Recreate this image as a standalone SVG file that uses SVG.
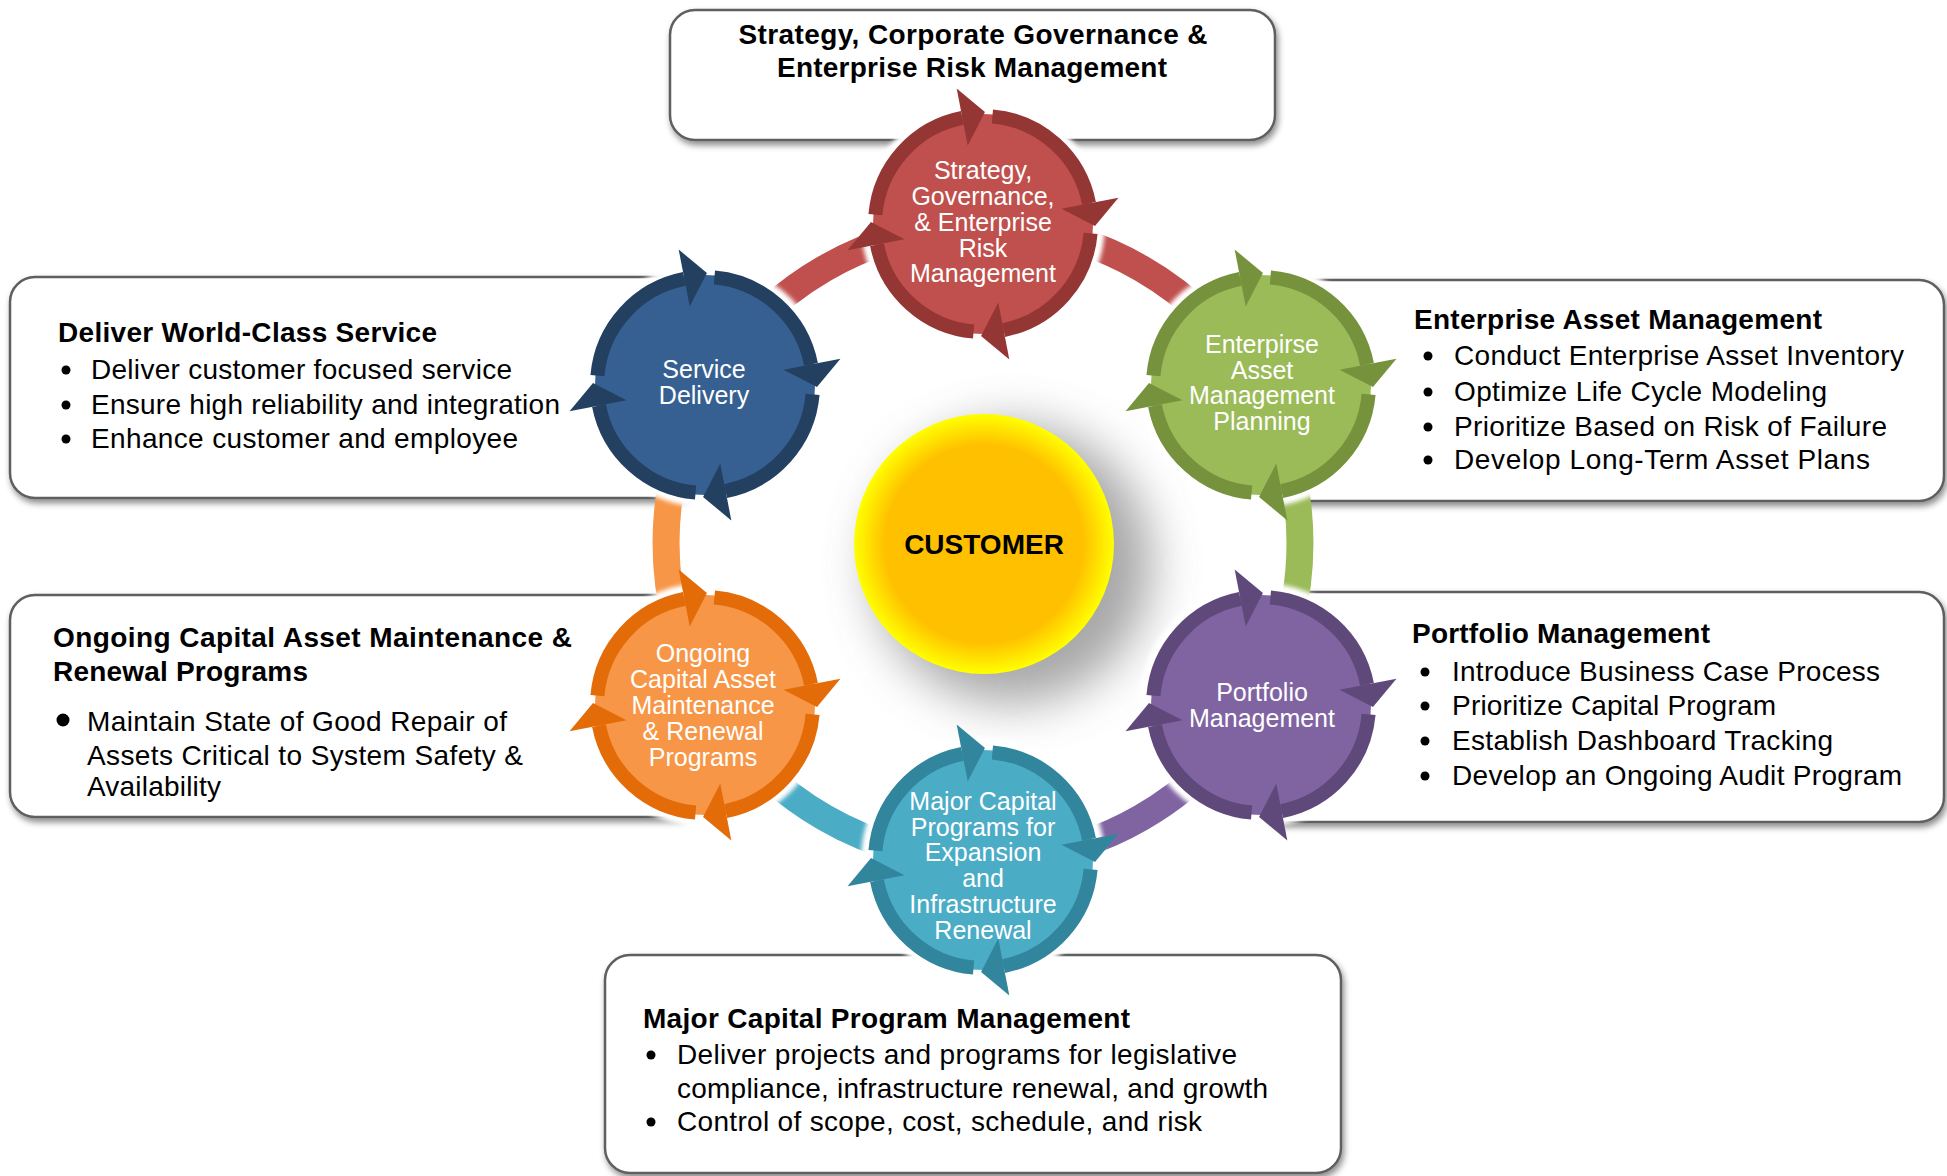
<svg xmlns="http://www.w3.org/2000/svg" xmlns:xlink="http://www.w3.org/1999/xlink" width="1947" height="1176" viewBox="0 0 1947 1176">
  <style>
    .box { fill: #ffffff; stroke: #5e5e5e; stroke-width: 2.5; filter: url(#boxShadow); }
    .title { font-family: "Liberation Sans", Arial, sans-serif; font-weight: bold; font-size: 28px; fill: #000; }
    .item { font-family: "Liberation Sans", Arial, sans-serif; font-size: 28px; fill: #000; }
    .lbl { font-family: "Liberation Sans", Arial, sans-serif; font-size: 25px; fill: #ffffff; text-anchor: middle; }
    .band { fill: none; stroke-width: 27; }
    .halo { fill: #ffffff; }
    .dot { fill: #000; }
  </style>
  <defs>
    <filter id="boxShadow" x="-5%" y="-5%" width="110%" height="120%">
      <feDropShadow dx="2" dy="4" stdDeviation="3" flood-color="#000" flood-opacity="0.45"/>
    </filter>
    <filter id="softBlur" x="-50%" y="-50%" width="200%" height="200%">
      <feGaussianBlur stdDeviation="24"/>
    </filter>
    <filter id="haloBlur" x="-20%" y="-20%" width="140%" height="140%">
      <feGaussianBlur stdDeviation="2"/>
    </filter>
    <radialGradient id="sun" cx="0.5" cy="0.5" r="0.5">
      <stop offset="0" stop-color="#FFC000"/>
      <stop offset="0.76" stop-color="#FFC000"/>
      <stop offset="1" stop-color="#FFFF00"/>
    </radialGradient>
    <!-- one quarter of the cycle ring: arc segment ending in a clockwise arrowhead -->
    <g id="quarter">
      <path d="M 9.41 -107.59 A 108 108 0 0 1 106.02 -20.61" fill="none" stroke="currentColor" stroke-width="14"/>
      <polygon points="135.46,-26.33 78.53,-15.27 111.98,1.95" fill="currentColor"/>
    </g>
    <g id="cycle">
      <use href="#quarter"/>
      <use href="#quarter" transform="rotate(90)"/>
      <use href="#quarter" transform="rotate(180)"/>
      <use href="#quarter" transform="rotate(270)"/>
    </g>
  </defs>

  <rect width="1947" height="1176" fill="#ffffff"/>

  <!-- text boxes -->
  <g id="box-strategy">
    <rect class="box" x="670" y="10" width="605" height="130" rx="25"/>
    <text class="title" x="973" y="44" text-anchor="middle" textLength="469">Strategy, Corporate Governance &amp;</text>
    <text class="title" x="972" y="77" text-anchor="middle" textLength="390">Enterprise  Risk Management</text>
  </g>

  <g id="box-service">
    <rect class="box" x="10" y="277" width="690" height="221" rx="25"/>
    <text class="title" x="58" y="342" textLength="379">Deliver World-Class  Service</text>
    <circle class="dot" cx="66" cy="370" r="4.5"/>
    <text class="item" x="91" y="379" textLength="421">Deliver customer focused service</text>
    <circle class="dot" cx="66" cy="405" r="4.5"/>
    <text class="item" x="91" y="414" textLength="469">Ensure high reliability and integration</text>
    <circle class="dot" cx="66" cy="439" r="4.5"/>
    <text class="item" x="91" y="448" textLength="427">Enhance customer and employee</text>
  </g>

  <g id="box-maintenance">
    <rect class="box" x="10" y="595" width="690" height="222" rx="25"/>
    <text class="title" x="53" y="647" textLength="519">Ongoing Capital Asset Maintenance &amp;</text>
    <text class="title" x="53" y="681" textLength="255">Renewal Programs</text>
    <circle class="dot" cx="63" cy="720" r="6.5"/>
    <text class="item" x="87" y="731" textLength="420">Maintain State of Good Repair of</text>
    <text class="item" x="87" y="765" textLength="436">Assets Critical to System Safety &amp;</text>
    <text class="item" x="87" y="796" textLength="134">Availability</text>
  </g>

  <g id="box-asset">
    <rect class="box" x="1258" y="280" width="686" height="221" rx="25"/>
    <text class="title" x="1414" y="329" textLength="408">Enterprise  Asset Management</text>
    <circle class="dot" cx="1428" cy="356" r="4.5"/>
    <text class="item" x="1454" y="365" textLength="450">Conduct Enterprise Asset Inventory</text>
    <circle class="dot" cx="1428" cy="392" r="4.5"/>
    <text class="item" x="1454" y="401" textLength="373">Optimize Life Cycle Modeling</text>
    <circle class="dot" cx="1428" cy="427" r="4.5"/>
    <text class="item" x="1454" y="436" textLength="433">Prioritize Based on Risk of Failure</text>
    <circle class="dot" cx="1428" cy="460" r="4.5"/>
    <text class="item" x="1454" y="469" textLength="416">Develop Long-Term Asset Plans</text>
  </g>

  <g id="box-portfolio">
    <rect class="box" x="1258" y="592" width="686" height="230" rx="25"/>
    <text class="title" x="1412" y="643" textLength="298">Portfolio  Management</text>
    <circle class="dot" cx="1425" cy="672" r="4.5"/>
    <text class="item" x="1452" y="681" textLength="428">Introduce Business Case Process</text>
    <circle class="dot" cx="1425" cy="706" r="4.5"/>
    <text class="item" x="1452" y="715" textLength="324">Prioritize Capital Program</text>
    <circle class="dot" cx="1425" cy="741" r="4.5"/>
    <text class="item" x="1452" y="750" textLength="381">Establish Dashboard Tracking</text>
    <circle class="dot" cx="1425" cy="776" r="4.5"/>
    <text class="item" x="1452" y="785" textLength="450">Develop an Ongoing Audit Program</text>
  </g>

  <g id="box-major">
    <rect class="box" x="605" y="955" width="736" height="218" rx="25"/>
    <text class="title" x="643" y="1028" textLength="487">Major Capital  Program Management</text>
    <circle class="dot" cx="651" cy="1055" r="4.5"/>
    <text class="item" x="677" y="1064" textLength="560">Deliver projects and programs for legislative</text>
    <text class="item" x="677" y="1098" textLength="591">compliance, infrastructure renewal, and growth</text>
    <circle class="dot" cx="651" cy="1122" r="4.5"/>
    <text class="item" x="677" y="1131" textLength="525">Control of scope, cost, schedule, and risk</text>
  </g>

  <!-- bands linking the cycle circles around the centre -->
  <g id="connectors">
    <path class="band" stroke="#C0504D" d="M 708.5 384.5 A 317 317 0 0 1 983 226"/>
    <path class="band" stroke="#C0504D" d="M 983 226 A 317 317 0 0 1 1257.5 384.5"/>
    <path class="band" stroke="#9BBB59" d="M 1257.5 384.5 A 317 317 0 0 1 1257.5 701.5"/>
    <path class="band" stroke="#8064A2" d="M 1257.5 701.5 A 317 317 0 0 1 983 860"/>
    <path class="band" stroke="#4BACC6" d="M 983 860 A 317 317 0 0 1 708.5 701.5"/>
    <path class="band" stroke="#F79646" d="M 708.5 701.5 A 317 317 0 0 1 708.5 384.5"/>
  </g>

  <!-- centre -->
  <g id="node-customer">
    <circle cx="1012" cy="564" r="140" fill="#8a8a8a" opacity="0.75" filter="url(#softBlur)"/>
    <circle cx="984" cy="544" r="130" fill="url(#sun)"/>
    <text x="984" y="554" text-anchor="middle" font-family="Liberation Sans, Arial, sans-serif" font-weight="bold" font-size="28" fill="#000">CUSTOMER</text>
  </g>

  <!-- cycle circles -->
  <g id="node-strategy">
    <circle class="halo" cx="983" cy="224" r="122" filter="url(#haloBlur)"/>
    <circle cx="983" cy="224" r="110" fill="#C0504D"/>
    <use href="#cycle" transform="translate(983 224)" style="color:#943634"/>
    <text class="lbl" x="983" y="179">Strategy,</text>
    <text class="lbl" x="983" y="205">Governance,</text>
    <text class="lbl" x="983" y="231">&amp; Enterprise</text>
    <text class="lbl" x="983" y="257">Risk</text>
    <text class="lbl" x="983" y="282">Management</text>
  </g>

  <g id="node-service">
    <circle class="halo" cx="705" cy="385" r="122" filter="url(#haloBlur)"/>
    <circle cx="705" cy="385" r="110" fill="#366092"/>
    <use href="#cycle" transform="translate(705 385)" style="color:#244061"/>
    <text class="lbl" x="704" y="378">Service</text>
    <text class="lbl" x="704" y="404">Delivery</text>
  </g>

  <g id="node-asset">
    <circle class="halo" cx="1261" cy="385" r="122" filter="url(#haloBlur)"/>
    <circle cx="1261" cy="385" r="110" fill="#9BBB59"/>
    <use href="#cycle" transform="translate(1261 385)" style="color:#76923C"/>
    <text class="lbl" x="1262" y="353">Enterpirse</text>
    <text class="lbl" x="1262" y="379">Asset</text>
    <text class="lbl" x="1262" y="404">Management</text>
    <text class="lbl" x="1262" y="430">Planning</text>
  </g>

  <g id="node-portfolio">
    <circle class="halo" cx="1261" cy="705" r="122" filter="url(#haloBlur)"/>
    <circle cx="1261" cy="705" r="110" fill="#8064A2"/>
    <use href="#cycle" transform="translate(1261 705)" style="color:#5F497A"/>
    <text class="lbl" x="1262" y="701">Portfolio</text>
    <text class="lbl" x="1262" y="727">Management</text>
  </g>

  <g id="node-major">
    <circle class="halo" cx="983" cy="860" r="122" filter="url(#haloBlur)"/>
    <circle cx="983" cy="860" r="110" fill="#4BACC6"/>
    <use href="#cycle" transform="translate(983 860)" style="color:#31859C"/>
    <text class="lbl" x="983" y="810">Major Capital</text>
    <text class="lbl" x="983" y="836">Programs for</text>
    <text class="lbl" x="983" y="861">Expansion</text>
    <text class="lbl" x="983" y="887">and</text>
    <text class="lbl" x="983" y="913">Infrastructure</text>
    <text class="lbl" x="983" y="939">Renewal</text>
  </g>

  <g id="node-maintenance">
    <circle class="halo" cx="705" cy="705" r="122" filter="url(#haloBlur)"/>
    <circle cx="705" cy="705" r="110" fill="#F79646"/>
    <use href="#cycle" transform="translate(705 705)" style="color:#E36C09"/>
    <text class="lbl" x="703" y="662">Ongoing</text>
    <text class="lbl" x="703" y="688">Capital Asset</text>
    <text class="lbl" x="703" y="714">Maintenance</text>
    <text class="lbl" x="703" y="740">&amp; Renewal</text>
    <text class="lbl" x="703" y="766">Programs</text>
  </g>
</svg>
